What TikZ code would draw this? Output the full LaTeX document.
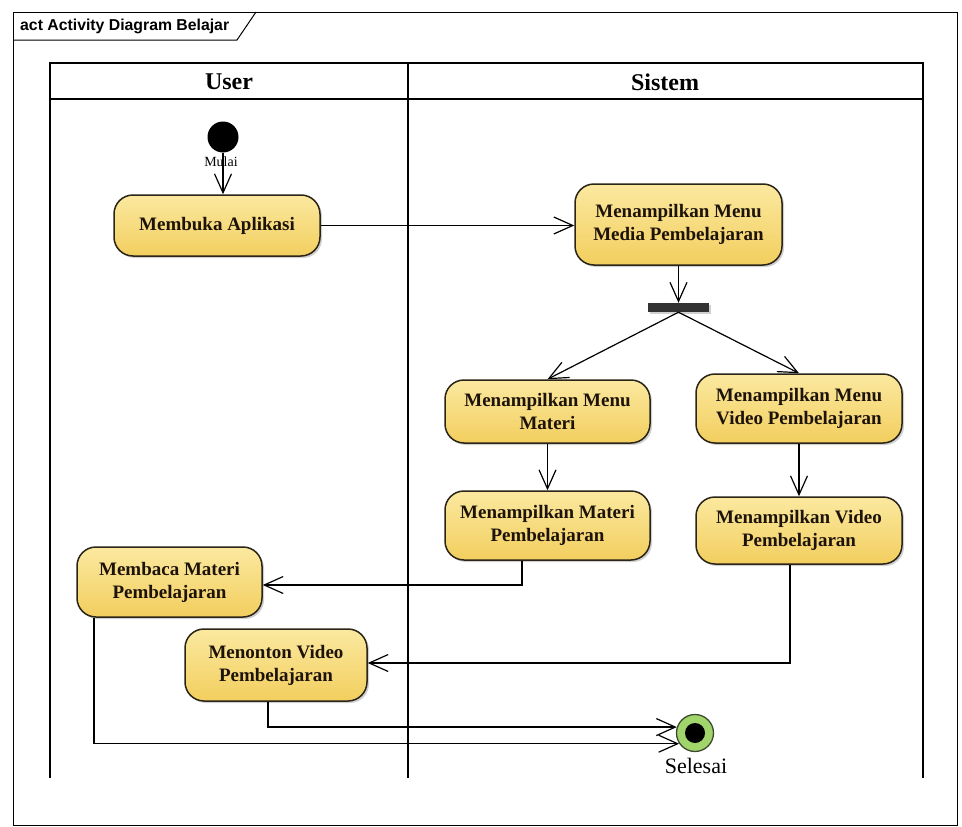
\documentclass[tikz,border=0pt]{standalone}
\usepackage{fontspec}
\setmainfont{Liberation Serif}
\newfontfamily\titlefont{Liberation Sans}
\usetikzlibrary{arrows.meta,shadows,calc}
\definecolor{boxtop}{HTML}{FBE9A0}
\definecolor{boxbot}{HTML}{F2CE5E}
\definecolor{edgecol}{HTML}{2B2418}
\definecolor{fingreen}{HTML}{A2D46C}
\definecolor{finedge}{HTML}{3E4A30}
\begin{document}
\begin{tikzpicture}[x=1pt,y=-1pt,
 act/.style={draw=edgecol, line width=1.5pt, rounded corners=19pt, top color=boxtop, bottom color=boxbot,
   font=\bfseries\fontsize{19}{23}\selectfont, text=black!85!brown, align=center, inner sep=0pt,
   drop shadow={shadow xshift=2pt, shadow yshift=-2pt, opacity=0.3, fill=black!60}},
 flow/.style={line width=1.2pt, -{Straight Barb[length=19pt,width=17pt,line width=1.2pt]}},
 lane/.style={line width=1.4pt},
 framestyle/.style={line width=1pt}]
\useasboundingbox (0,0) rectangle (962,827);
\fill[white] (0,0) rectangle (962,827);
% frame
\draw[framestyle] (13,12) rectangle (957,825);
\draw[framestyle] (13,40) -- (237,40) -- (256,12);
\node[font=\titlefont\bfseries\fontsize{15.8}{17}\selectfont, anchor=west, inner sep=0pt] (title) at (20,26) {act Activity Diagram Belajar};
% swimlanes
\draw[lane] (50,778) -- (50,63) -- (923,63) -- (923,778);
\draw[lane] (50,99) -- (923,99);
\draw[lane] (408,63) -- (408,778);
\node[font=\bfseries\fontsize{24}{28}\selectfont] (user) at (229,82) {User};
\node[font=\bfseries\fontsize{24}{28}\selectfont] (sistem) at (665,82) {Sistem};
% nodes
\node[circle, fill=black, minimum size=31pt, inner sep=0pt] (start) at (223,137) {};
\node[font=\fontsize{14}{16}\selectfont, inner sep=0pt] (mulai) at (221,162) {Mulai};
\node[act, minimum width=206pt, minimum height=61pt] (membuka) at (217,225.5) {Membuka Aplikasi};
\node[act, minimum width=207pt, minimum height=81pt] (media) at (678.5,224.5) {Menampilkan Menu\\Media Pembelajaran};
\node[fill=black!80, minimum width=61pt, minimum height=9pt, inner sep=0pt,
   drop shadow={shadow xshift=2pt, shadow yshift=-2pt, opacity=0.3, fill=black!60}] (fork) at (678.5,307.5) {};
\node[act, minimum width=205pt, minimum height=63pt] (menuMateri) at (547.5,411.5) {Menampilkan Menu\\Materi};
\node[act, minimum width=206pt, minimum height=69pt] (menuVideo) at (799,408.5) {Menampilkan Menu\\Video Pembelajaran};
\node[act, minimum width=205pt, minimum height=69pt] (materiPemb) at (547.5,525.5) {Menampilkan Materi\\Pembelajaran};
\node[act, minimum width=206pt, minimum height=67pt] (videoPemb) at (799,530.5) {Menampilkan Video\\Pembelajaran};
\node[act, minimum width=185pt, minimum height=70pt] (membaca) at (169.5,582) {Membaca Materi\\Pembelajaran};
\node[act, minimum width=182pt, minimum height=72pt] (menonton) at (276,665) {Menonton Video\\Pembelajaran};
\node[circle, draw=finedge, line width=1.3pt, fill=fingreen, minimum size=37pt, inner sep=0pt] (fin) at (695,733) {};
\node[circle, fill=black, minimum size=20pt, inner sep=0pt] (finin) at (fin) {};
\node[font=\fontsize{22}{25}\selectfont, inner sep=0pt] (selesai) at (696,766) {Selesai};
% connectors
\draw[flow] (start) -- (start |- membuka.north);
\draw[flow] (membuka.east) -- (membuka.east -| media.west);
\draw[flow] (media.south) -- (fork.north);
\draw[flow] (fork.south) -- (menuMateri.north);
\draw[flow] (fork.south) -- (menuVideo.north);
\draw[flow] (menuMateri.south) -- (materiPemb.north);
\draw[flow] (menuVideo.south) -- (videoPemb.north);
\draw[flow] ([xshift=-25.5pt]materiPemb.south) |- ([yshift=-3pt]membaca.east);
\draw[flow] ([xshift=-9pt]videoPemb.south) |- ([yshift=2pt]menonton.east);
\draw[flow] ([xshift=-8pt]menonton.south) |- (fin.162);
\draw[flow] ([xshift=-75.5pt]membaca.south) |- (fin.214);
\end{tikzpicture}
\end{document}
